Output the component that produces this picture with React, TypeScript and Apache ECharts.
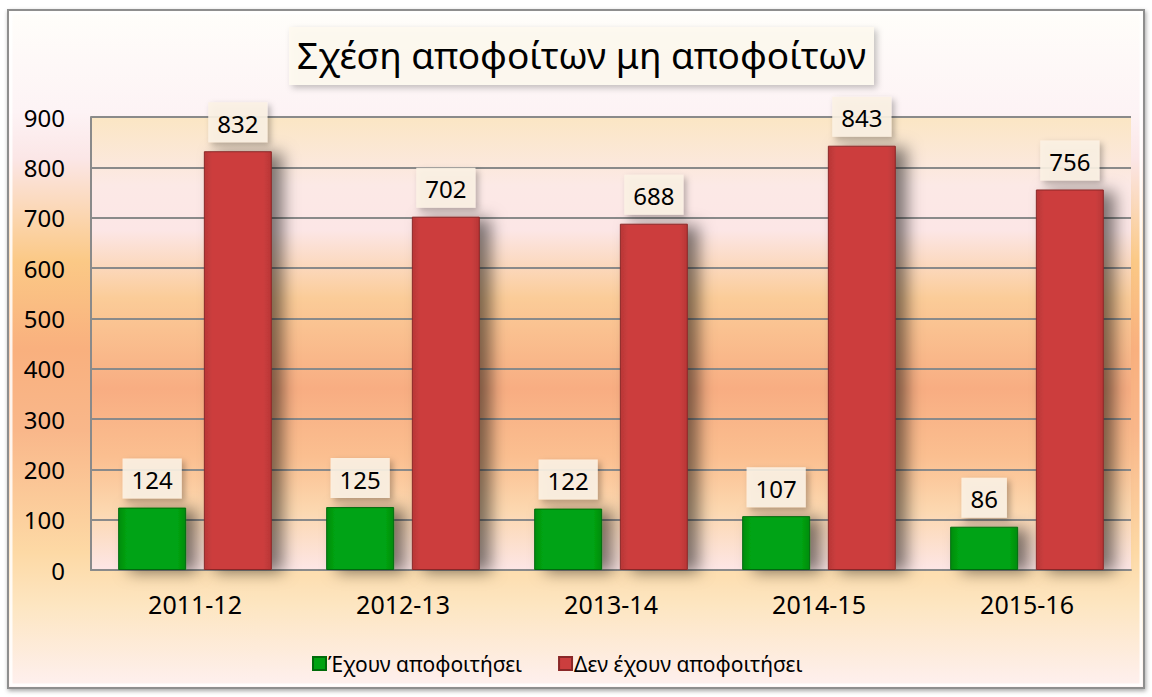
import React, { useEffect, useRef } from "react";
import * as echarts from "echarts";

const categories = ["2011-12", "2012-13", "2013-14", "2014-15", "2015-16"];
const graduated = [124, 125, 122, 107, 86];
const notGraduated = [832, 702, 688, 843, 756];
const seriesNames = ["Έχουν αποφοιτήσει", "Δεν έχουν αποφοιτήσει"];
const titleText = "Σχέση αποφοίτων μη αποφοίτων";

const FONT = "'Noto Sans', 'Open Sans', 'DejaVu Sans', sans-serif";

export default function App() {
  const ref = useRef<HTMLDivElement>(null);
  useEffect(() => {
    document.body.style.margin = "0";
    if (!ref.current) return;
    const chart = echarts.init(ref.current, undefined, { renderer: "svg" });
    const G = echarts.graphic;
    const outerFill = new G.LinearGradient(0, 0, 0, 1, [
      { offset: 0, color: "#fffefa" },
      { offset: 0.15, color: "#fdf3f5" },
      { offset: 0.22, color: "#fbe6e6" },
      { offset: 0.37, color: "#fbc986" },
      { offset: 0.5, color: "#f9b07e" },
      { offset: 0.62, color: "#f9b78a" },
      { offset: 0.8, color: "#fdd9a5" },
      { offset: 0.88, color: "#fde6c2" },
      { offset: 1, color: "#fef0f0" },
    ]);
    const plotFill = new G.LinearGradient(0, 0, 0, 1, [
      { offset: 0, color: "#fbe6c4" },
      { offset: 0.15, color: "#fce9e6" },
      { offset: 0.25, color: "#fce6e6" },
      { offset: 0.4, color: "#fbcc98" },
      { offset: 0.6, color: "#f8ad82" },
      { offset: 0.75, color: "#fbbf90" },
      { offset: 0.87, color: "#fcd8b0" },
      { offset: 1, color: "#fde6e6" },
    ]);
    const greenFill = new G.LinearGradient(0, 0, 1, 0, [
      { offset: 0, color: "#008c0e" },
      { offset: 0.12, color: "#00a312" },
      { offset: 0.88, color: "#00a312" },
      { offset: 1, color: "#008c0e" },
    ]);
    const redFill = new G.LinearGradient(0, 0, 1, 0, [
      { offset: 0, color: "#b83636" },
      { offset: 0.12, color: "#cc3e3e" },
      { offset: 0.88, color: "#cc3e3e" },
      { offset: 1, color: "#b83636" },
    ]);
    const labelStyle = {
      show: true,
      position: "top" as const,
      distance: 9,
      fontFamily: FONT,
      fontSize: 24,
      color: "#000",
      backgroundColor: "rgba(252,242,228,0.9)",
      padding: [9, 9, 7, 9],
      shadowColor: "rgba(0,0,0,0.3)",
      shadowBlur: 6,
      shadowOffsetX: 3,
      shadowOffsetY: 3,
    };
    chart.setOption({
      animation: false,
      graphic: [
        {
          type: "rect",
          z: -10,
          silent: true,
          shape: { x: 8, y: 10, width: 1136, height: 678 },
          style: {
            fill: outerFill,
            stroke: "#8e8e8e",
            lineWidth: 2,
            shadowColor: "rgba(0,0,0,0.35)",
            shadowBlur: 4,
            shadowOffsetX: 1,
            shadowOffsetY: 2,
          },
        },
        {
          type: "rect",
          z: -9,
          silent: true,
          shape: { x: 11, y: 13, width: 1130, height: 672 },
          style: {
            fill: "none",
            stroke: "rgba(255,255,255,0.85)",
            lineWidth: 3,
          },
        },
      ],
      title: {
        text: titleText,
        left: 289,
        top: 27,
        padding: [9, 8, 12, 8],
        backgroundColor: "rgba(254,250,240,0.92)",
        shadowColor: "rgba(0,0,0,0.25)",
        shadowBlur: 6,
        shadowOffsetX: 3,
        shadowOffsetY: 3,
        textStyle: {
          fontFamily: FONT,
          fontSize: 37,
          fontWeight: "normal",
          color: "#000",
        },
      },
      legend: {
        data: seriesNames,
        left: 307,
        top: 648,
        itemWidth: 13,
        itemHeight: 13,
        itemGap: 36,
        icon: "rect",
        textStyle: {
          fontFamily: FONT,
          fontSize: 21,
          color: "#000",
          padding: [0, 0, 0, -3],
        },
      },
      grid: {
        left: 91,
        right: 21,
        top: 117,
        bottom: 127,
        show: true,
        backgroundColor: plotFill,
        borderWidth: 0,
      },
      xAxis: {
        type: "category",
        data: categories,
        axisTick: { show: false },
        axisLine: { show: true, lineStyle: { color: "#8a8a8a", width: 2 } },
        axisLabel: {
          fontFamily: FONT,
          fontSize: 25,
          color: "#000",
          margin: 21,
        },
      },
      yAxis: {
        type: "value",
        min: 0,
        max: 900,
        interval: 100,
        axisLine: { show: true, lineStyle: { color: "#8a8a8a", width: 2 } },
        axisTick: { show: false },
        splitLine: { lineStyle: { color: "#8a8a8a", width: 2 } },
        axisLabel: {
          fontFamily: FONT,
          fontSize: 24,
          color: "#000",
          margin: 26,
        },
      },
      series: [
        {
          name: seriesNames[0],
          type: "bar",
          data: graduated,
          barWidth: 68,
          barGap: "26%",
          itemStyle: {
            color: greenFill,
            borderColor: "#006b0a",
            borderWidth: 1,
            shadowColor: "rgba(0,0,0,0.5)",
            shadowBlur: 16,
            shadowOffsetX: 11,
            shadowOffsetY: 2,
          },
          label: labelStyle,
        },
        {
          name: seriesNames[1],
          type: "bar",
          data: notGraduated,
          barWidth: 68,
          barGap: "26%",
          itemStyle: {
            color: redFill,
            borderColor: "#8a2828",
            borderWidth: 1,
            shadowColor: "rgba(0,0,0,0.5)",
            shadowBlur: 16,
            shadowOffsetX: 11,
            shadowOffsetY: 2,
          },
          label: labelStyle,
        },
      ],
    });
    return () => chart.dispose();
  }, []);
  return <div ref={ref} style={{ width: 1152, height: 697 }} />;
}
